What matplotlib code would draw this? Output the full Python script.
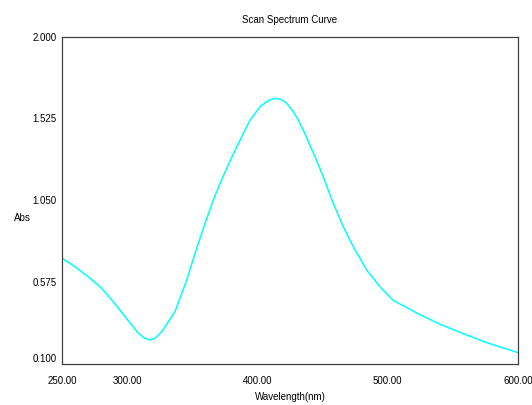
# -*- coding: utf-8 -*-
import numpy as np
import matplotlib
matplotlib.use('Agg')
from matplotlib import pyplot as plt

# values
wavelength = [250.2, 260.0, 270.2, 280.5, 289.4, 298.4, 308.6, 313.0, 317.5, 321.5,
              326.5, 336.7, 341.9, 345.7, 352.1, 359.8, 366.1, 373.8, 381.5, 387.9,
              394.3, 402.0, 408.0, 413.5, 418.0, 422.5, 427.0, 431.4, 435.2, 444.2,
              450.5, 458.2, 465.9, 473.6, 483.9, 494.1, 504.3, 515.8, 522.2, 540.1,
              558.0, 576.0, 599.5]
absorbance = [0.713, 0.664, 0.606, 0.539, 0.461, 0.374, 0.278, 0.252, 0.239, 0.250,
              0.287, 0.403, 0.510, 0.587, 0.742, 0.916, 1.051, 1.192, 1.318, 1.418,
              1.515, 1.592, 1.627, 1.641, 1.636, 1.612, 1.570, 1.515, 1.457, 1.302,
              1.186, 1.032, 0.896, 0.780, 0.645, 0.548, 0.468, 0.423, 0.396, 0.331,
              0.276, 0.224, 0.167]

xticks = [250, 300, 400, 500, 600]
xtick_labels = ['250.00', '300.00', '400.00', '500.00', '600.00']
yticks = [0.100, 0.575, 1.050, 1.525, 2.000]
ytick_labels = ['0.100', '0.575', '1.050', '1.525', '2.000']

plt.rcParams['font.family'] = ['Liberation Sans Narrow', 'Liberation Sans', 'DejaVu Sans']

fig = plt.figure(figsize=(5.32, 4.05), dpi=100)
ax = fig.add_axes([62 / 532, 1 - 364 / 405, 456 / 532, 327.5 / 405])

ax.plot(wavelength, absorbance, color='#00ffff', linewidth=1.1)

ax.set_xlim(250, 600)
ax.set_ylim(0.1, 2.0)
ax.set_xticks(xticks)
ax.set_xticklabels(xtick_labels)
ax.set_yticks(yticks)
ax.set_yticklabels(ytick_labels)
ax.tick_params(length=0, labelsize=7, colors='black')
ax.tick_params(axis='x', pad=9)
ax.tick_params(axis='y', pad=4)
ax.get_yticklabels()[0].set_verticalalignment('bottom')

for s in ax.spines.values():
    s.set_color('#404040')
    s.set_linewidth(0.9)

ax.set_title('Scan Spectrum Curve', fontsize=7, pad=10)
ax.set_xlabel('Wavelength(nm)', fontsize=7, labelpad=4)
fig.text(22 / 532, 1 - 218 / 405, 'Abs', fontsize=7, ha='center', va='center')

fig.savefig('out.png', dpi=100, facecolor='white')
